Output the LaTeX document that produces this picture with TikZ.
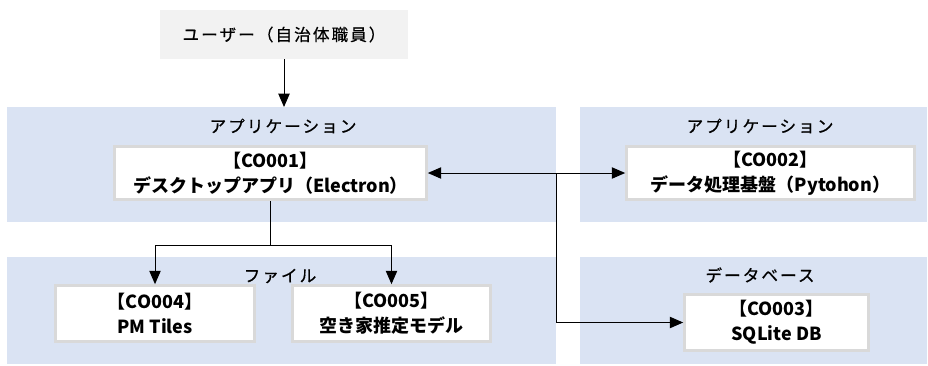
\documentclass[tikz,border=0pt]{standalone}
\usepackage{fontspec}
\setmainfont{Noto Sans CJK JP}
\usepackage{xcolor}
\usepackage{tikz}
\usetikzlibrary{arrows.meta, positioning, calc}
\definecolor{panelblue}{RGB}{218,227,243}
\definecolor{usergray}{RGB}{242,242,242}
\definecolor{boxedge}{RGB}{217,217,217}
\tikzstyle{panel} = [fill=panelblue, inner sep=0pt, anchor=north west]
\tikzstyle{title} = [font=\fontsize{12.5}{14}\selectfont\addfontfeature{LetterSpace=12, FakeBold=0.6}]
\tikzstyle{comp} = [draw=boxedge, line width=2pt, fill=white, align=center, inner sep=0pt, font=\bfseries\fontsize{13.5}{18.5}\selectfont]
\tikzstyle{link} = [-{Triangle[length=10pt,width=8.5pt]}, line width=0.75pt]

\begin{document}
\begin{tikzpicture}[x=0.75pt, y=-0.75pt]

\useasboundingbox (0, 0) rectangle (928, 365);

% panels
\node [panel, minimum width=411.75pt, minimum height=86.25pt] (appL) at (7, 107) {};
\node [panel, minimum width=260.25pt, minimum height=86.25pt] (appR) at (580, 107) {};
\node [panel, minimum width=411.75pt, minimum height=80.25pt] (files) at (7, 257) {};
\node [panel, minimum width=260.25pt, minimum height=80.25pt] (dbase) at (580, 257) {};

\node [title] (appLtitle) at (283, 126) {アプリケーション};
\node [title] (appRtitle) at (760, 126) {アプリケーション};
\node [title] (filestitle) at (280, 276) {ファイル};
\node [title] (dbasetitle) at (760, 275) {データベース};

% user
\node [title, fill=usergray, minimum width=186pt, minimum height=36.75pt] (user) at (284, 34.5) {ユーザー（自治体職員）};

% components
\node [comp, minimum width=234pt, minimum height=40pt] (co1) at (270.5, 173) {【CO001】\\デスクトップアプリ（Electron）};
\node [comp, minimum width=216pt, minimum height=40pt] (co2) at (770.5, 173) {【CO002】\\データ処理基盤（Pytohon）};
\node [comp, minimum width=149.25pt, minimum height=42pt] (co4) at (155, 313.5) {【CO004】\\PM Tiles};
\node [comp, minimum width=148.5pt, minimum height=42pt] (co5) at (391.5, 313.5) {【CO005】\\空き家推定モデル};
\node [comp, minimum width=138pt, minimum height=42pt] (co3) at (776.5, 322.5) {【CO003】\\SQLite DB};

% connectors
\draw [link] (user.south) -- (user.south |- appL.north);
\draw [link, {Triangle[length=10pt,width=8.5pt]}-{Triangle[length=10pt,width=8.5pt]}] (co1.east) -- (co2.west);
\draw [link] (co1.east -| appL.east) |- (co3.west);
\coordinate (split) at ($(co1.south) + (0, 44)$);
\draw [link] (co1.south) -- (split) -| (co4.north);
\draw [link] (split) -| (co5.north);

\end{tikzpicture}
\end{document}
